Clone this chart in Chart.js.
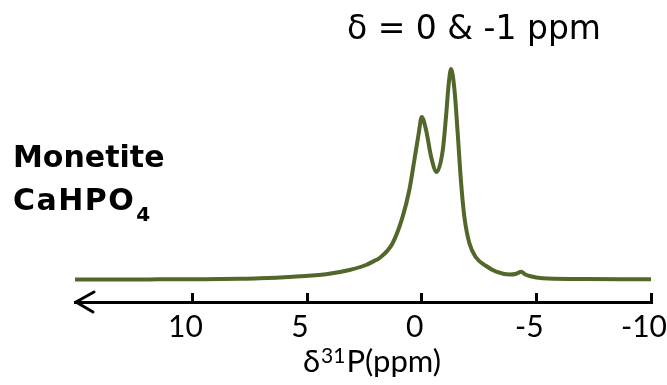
<!DOCTYPE html>
<html>
<head>
<meta charset="utf-8">
<script src="https://cdn.jsdelivr.net/npm/chart.js@4.4.1/dist/chart.umd.min.js"></script>
<style>
html, body { margin: 0; padding: 0; background: #fff; }
</style>
</head>
<body>
<canvas id="myChart" width="667" height="385"></canvas>
<script>
// spectrum: chemical shift (ppm) and intensity (arbitrary units)
var ppm = [15.2, 14.0, 11.9, 9.7, 7.95, 7.08, 5.63, 4.17, 3.15, 2.43, 1.99, 1.85, 1.27, 0.83, 0.54, 0.32, 0.13, 0.0,
           -0.19, -0.41, -0.65, -0.92, -1.06, -1.18, -1.28, -1.43, -1.57, -1.72, -1.86, -2.08, -2.37, -2.81, -3.25,
           -3.83, -4.09, -4.34, -4.52, -4.70, -5.27, -6.74, -8.63, -10.0];
var intensity = [22.5, 22.5, 22.6, 22.8, 23.2, 23.7, 25.3, 27.7, 32, 37, 42, 43.7, 58.7, 85.3, 112, 142, 168.7, 185,
                 172, 145.3, 130, 152, 185.3, 218.7, 233, 212, 168.7, 118.7, 85.3, 58.7, 44.5, 36, 30.3,
                 27.5, 28, 30.3, 27.5, 26, 23.7, 23, 22.7, 22.7];
var tickValues = [10, 5, 0, -5, -10];
var peakLabel = "δ = 0 & -1 ppm";
var sampleName = "Monetite";
var formula = "CaHPO";
var formulaSub = "4";
var axisTitle = ["δ", "31", "P(ppm)"];   // symbol, superscript, rest

var points = ppm.map(function (p, i) { return { x: p, y: intensity[i] }; });

var extras = {
    id: 'extras',
    afterDraw: function (chart) {
        var ctx = chart.ctx, area = chart.chartArea;
        var y0 = area.bottom;
        ctx.save();
        // open arrow head on the left end of the axis
        ctx.strokeStyle = '#000';
        ctx.lineWidth = 3;
        ctx.lineCap = 'round';
        ctx.lineJoin = 'round';
        ctx.beginPath();
        ctx.moveTo(area.left + 19, y0 - 10);
        ctx.lineTo(area.left + 1, y0);
        ctx.lineTo(area.left + 18, y0 + 10);
        ctx.stroke();

        ctx.fillStyle = '#000';
        ctx.textBaseline = 'alphabetic';
        ctx.textAlign = 'center';
        ctx.font = '33px "DejaVu Sans"';
        ctx.fillText(peakLabel, 474, 39);

        ctx.textAlign = 'left';
        ctx.font = 'bold 30px "DejaVu Sans"';
        ctx.fillText(sampleName, 13, 167);
        ctx.letterSpacing = '1.5px';
        ctx.fillText(formula, 13, 210);
        var w = ctx.measureText(formula).width;
        ctx.letterSpacing = '0px';
        ctx.font = 'bold 20px "DejaVu Sans"';
        ctx.fillText(formulaSub, 13 + w + 1, 221);

        // x axis title with a raised mass number
        var big = '31px Lato', small = '21px Lato';
        ctx.font = big;
        var w1 = ctx.measureText(axisTitle[0]).width;
        var w3 = ctx.measureText(axisTitle[2]).width;
        ctx.font = small;
        var w2 = ctx.measureText(axisTitle[1]).width;
        var tx = 372 - (w1 + w2 + w3 + 2) / 2;
        ctx.font = big;
        ctx.fillText(axisTitle[0], tx, 372);
        ctx.font = small;
        ctx.fillText(axisTitle[1], tx + w1 + 1, 363);
        ctx.font = big;
        ctx.fillText(axisTitle[2], tx + w1 + w2 + 2, 372);
        ctx.restore();
    }
};

new Chart("myChart", {
    type: "line",
    data: {
        datasets: [{
            data: points,
            borderColor: "#52672a",
            borderWidth: 4,
            pointRadius: 0,
            fill: false,
            cubicInterpolationMode: "monotone"
        }]
    },
    options: {
        responsive: false,
        animation: false,
        layout: { padding: { left: 75, right: 16, top: 52, bottom: 0 } },
        plugins: {
            legend: { display: false },
            tooltip: { enabled: false }
        },
        scales: {
            x: {
                type: "linear",
                reverse: true,
                min: -10,
                max: 15.12,
                afterBuildTicks: function (scale) {
                    scale.ticks = tickValues.map(function (v) { return { value: v }; });
                },
                afterFit: function (scale) {
                    scale.height = 83;
                    scale.paddingLeft = 0;
                    scale.paddingRight = 0;
                },
                grid: {
                    drawOnChartArea: false,
                    drawTicks: true,
                    tickLength: -9,
                    lineWidth: 3,
                    color: "#000"
                },
                border: { display: true, width: 3, color: "#000" },
                ticks: {
                    padding: 16,
                    labelOffset: -7,
                    color: "#000",
                    font: { family: "Lato", size: 30 }
                },
                title: { display: false }
            },
            y: {
                display: false,
                min: 0,
                max: 250
            }
        }
    },
    plugins: [extras]
});
</script>
</body>
</html>
